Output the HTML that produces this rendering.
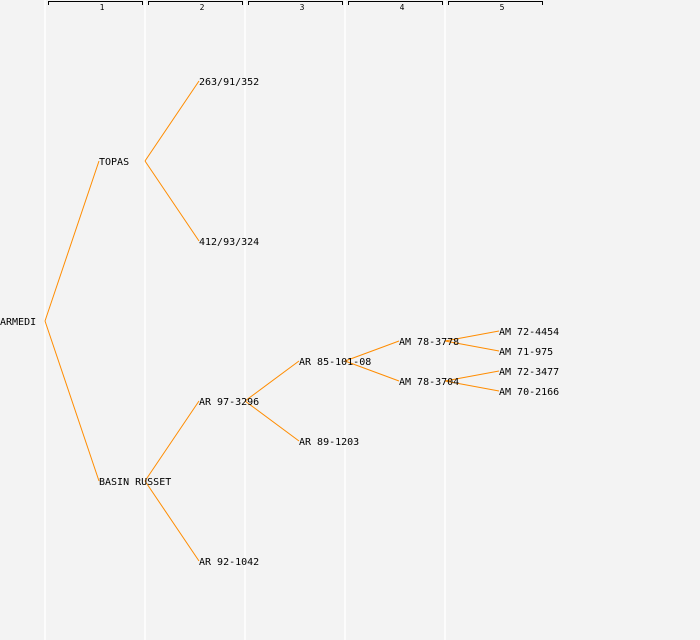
<!DOCTYPE html>
<html><head><style>html,body{margin:0;background:#f3f3f3;overflow:hidden}svg{display:block}</style></head><body>
<svg width="700" height="640" xmlns="http://www.w3.org/2000/svg" font-family="'DejaVu Sans Mono','Liberation Mono',monospace" font-size="10">
<rect width="700" height="640" fill="#f3f3f3"/>
<g stroke="#fff" stroke-width="1.5">
<line x1="45" y1="0" x2="45" y2="640"/><line x1="145" y1="0" x2="145" y2="640"/><line x1="245" y1="0" x2="245" y2="640"/><line x1="345" y1="0" x2="345" y2="640"/><line x1="445" y1="0" x2="445" y2="640"/>
</g>
<g stroke="#000" fill="none" stroke-width="1">
<path d="M48.5,5 V1.5 H142.5 V5"/><path d="M148.5,5 V1.5 H242.5 V5"/><path d="M248.5,5 V1.5 H342.5 V5"/><path d="M348.5,5 V1.5 H442.5 V5"/><path d="M448.5,5 V1.5 H542.5 V5"/>
</g>
<g font-size="8" text-anchor="middle"><text x="102" y="10">1</text><text x="202" y="10">2</text><text x="302" y="10">3</text><text x="402" y="10">4</text><text x="502" y="10">5</text></g>
<g stroke="#ff8c00" stroke-width="1" fill="none">
<path d="M45,321 L99,161 M45,321 L99,481"/>
<path d="M145,161 L199,81 M145,161 L199,241"/>
<path d="M145,481 L199,401 M145,481 L199,561"/>
<path d="M245,401 L299,361 M245,401 L299,441"/>
<path d="M345,361 L399,341 M345,361 L399,381"/>
<path d="M445,341 L499,331 M445,341 L499,351 M445,381 L499,371 M445,381 L499,391"/>
</g>
<g fill="#000">
<text x="0" y="325">ARMEDI</text>
<text x="99" y="165">TOPAS</text><text x="99" y="485">BASIN RUSSET</text>
<text x="199" y="85">263/91/352</text><text x="199" y="245">412/93/324</text><text x="199" y="405">AR 97-3296</text><text x="199" y="565">AR 92-1042</text>
<text x="299" y="365">AR 85-101-08</text><text x="299" y="445">AR 89-1203</text>
<text x="399" y="345">AM 78-3778</text><text x="399" y="385">AM 78-3704</text>
<text x="499" y="335">AM 72-4454</text><text x="499" y="355">AM 71-975</text><text x="499" y="375">AM 72-3477</text><text x="499" y="395">AM 70-2166</text>
</g>
</svg>
</body></html>
